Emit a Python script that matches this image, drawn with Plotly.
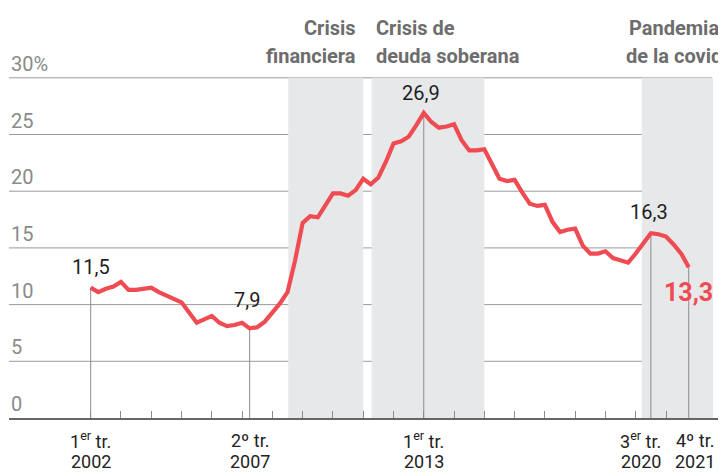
import plotly.graph_objects as go

# ---------------- data ----------------
years = list(range(2002, 2022))
quarters = [f"{y}-T{q}" for y in years for q in range(1, 5)]
rate = [11.5, 11.1, 11.4, 11.6, 12.0, 11.3, 11.3, 11.4, 11.5, 11.1,
        10.8, 10.5, 10.2, 9.3, 8.4, 8.7, 9.0, 8.4, 8.1, 8.2,
        8.4, 7.9, 8.0, 8.5, 9.3, 10.1, 11.1, 13.9, 17.2, 17.8,
        17.7, 18.7, 19.8, 19.8, 19.6, 20.1, 21.1, 20.6, 21.2, 22.6,
        24.2, 24.4, 24.8, 25.8, 26.9, 26.1, 25.6, 25.7, 25.9, 24.5,
        23.6, 23.6, 23.7, 22.4, 21.1, 20.9, 21.0, 19.9, 18.9, 18.7,
        18.8, 17.3, 16.4, 16.6, 16.7, 15.2, 14.5, 14.5, 14.7, 14.1,
        13.9, 13.7, 14.5, 15.4, 16.3, 16.2, 16.0, 15.3, 14.5, 13.3]
x_idx = list(range(len(quarters)))

# crisis periods (in quarter-index units)
period_line1 = ["Crisis", "Crisis de", "Pandemia"]
period_line2 = ["financiera", "deuda soberana", "de la covid"]
period_start = [26.1, 37.1, 72.8]
period_end = [36.0, 52.0, 82.2]

# highlighted points and x tick labels
label_idx = [0, 21, 44, 74, 79]
tick_line1 = ["1<sup>er</sup> tr.", "2º tr.", "1<sup>er</sup> tr.", "3<sup>er</sup> tr.", "4º tr."]
tick_line2 = ["2002", "2007", "2013", "2020", "2021"]
y_ticks = [0, 5, 10, 15, 20, 25, 30]
year_ticks = [i for i, q in enumerate(quarters) if q.endswith("T1")]

# ---------------- layout geometry (page pixels) ----------------
PAGE_W, PAGE_H = 726, 473
OFF = 8                      # default body margin of the html page
W, H = PAGE_W - OFF, PAGE_H - OFF
PL, PR, PT, PB = 9, 719, 60, 418   # plot area in page pixels
L, T = PL - OFF, PT - OFF
R, B = W - (PR - OFF), H - (PB - OFF)
PX_PER_Q = 7.57
X0_PX = 90.7
xmin = (PL - X0_PX) / PX_PER_Q
xmax = (PR - X0_PX) / PX_PER_Q
PX_PER_UNIT = 11.34
ymax = (PB - PT) / PX_PER_UNIT


def yp(p):
    """page pixel -> paper y"""
    return (PB - p) / (PB - PT)


def xp(p):
    """page pixel -> paper x"""
    return (p - PL) / (PR - PL)


FONT = "Roboto"
RED = "#ef4b52"

fig = go.Figure()
fig.add_trace(go.Scatter(
    x=x_idx, y=rate, mode="lines",
    line=dict(color=RED, width=4.2, shape="linear"),
    hoverinfo="skip", showlegend=False,
))

shapes = []
for s, e in zip(period_start, period_end):
    shapes.append(dict(type="rect", xref="x", yref="y", x0=s, x1=e, y0=0, y1=30,
                       fillcolor="#e7e8ea", line=dict(width=0), layer="below"))
for g in y_ticks[1:]:
    shapes.append(dict(type="line", xref="paper", yref="y", x0=0, x1=xp(712), y0=g, y1=g,
                       line=dict(color="#9a9a9a", width=1), layer="below"))
for i in label_idx:
    shapes.append(dict(type="line", xref="x", yref="y", x0=i, x1=i, y0=0, y1=rate[i],
                       line=dict(color="#8c8c8c", width=1), layer="below"))

ann = []
# y tick labels
for v in y_ticks:
    ann.append(dict(xref="paper", yref="y", x=0, y=v + 14 / PX_PER_UNIT,
                    text=("30%" if v == 30 else str(v)), showarrow=False,
                    xanchor="left", yanchor="middle",
                    font=dict(family=FONT, size=20, color="#8a8a8a")))

# period headers
hdr_font = dict(family=FONT, size=20, color="#6d6d6d", weight="bold")
hdr_x1 = [357, 375, 720]
hdr_x2 = [357, 375, 723]
hdr_anchor = ["right", "left", "right"]
for l1, l2, hx1, hx2, anc in zip(period_line1, period_line2, hdr_x1, hdr_x2, hdr_anchor):
    ann.append(dict(xref="paper", yref="paper", x=xp(hx1), y=yp(28), text=l1, showarrow=False,
                    xanchor=anc, yanchor="middle", borderpad=0, font=hdr_font))
    ann.append(dict(xref="paper", yref="paper", x=xp(hx2), y=yp(56), text=l2, showarrow=False,
                    xanchor=anc, yanchor="middle", borderpad=0, font=hdr_font))

# value labels
val_shift = [(0, 21), (-3, 28), (-3, 20), (-2, 21), (0, -25)]
for k, i in enumerate(label_idx):
    txt = f"{rate[i]:.1f}".replace(".", ",")
    last = (k == len(label_idx) - 1)
    ann.append(dict(xref="x", yref="y", x=i, y=rate[i], text=txt, showarrow=False,
                    xanchor="center", yanchor="middle",
                    xshift=val_shift[k][0], yshift=val_shift[k][1],
                    font=(dict(family=FONT, size=25, color=RED, weight="bold") if last
                          else dict(family=FONT, size=20, color="#1e1e1e"))))

# x tick labels
tick_shift = [0, 0, 0, -10, 6]
for k, i in enumerate(label_idx):
    ann.append(dict(xref="x", yref="paper", x=i, y=yp(440), text=tick_line1[k], showarrow=False,
                    xanchor="center", yanchor="middle", xshift=tick_shift[k],
                    borderpad=0,
                    font=dict(family=FONT, size=18, color="#222222")))
    ann.append(dict(xref="x", yref="paper", x=i, y=yp(472.5), text=tick_line2[k], showarrow=False,
                    xanchor="center", yanchor="bottom", xshift=tick_shift[k],
                    borderpad=0,
                    font=dict(family=FONT, size=18, color="#222222")))

fig.update_layout(
    width=W, height=H,
    margin=dict(l=L, r=R, t=T, b=B, pad=0),
    paper_bgcolor="white", plot_bgcolor="white",
    shapes=shapes, annotations=ann,
    showlegend=False,
    font=dict(family=FONT),
    xaxis=dict(range=[xmin, xmax], showgrid=False, zeroline=False,
               showline=True, linecolor="#666666", linewidth=2,
               ticks="inside", tickvals=year_ticks, ticklen=7, tickwidth=1,
               tickcolor="#8c8c8c", showticklabels=False, fixedrange=True),
    yaxis=dict(range=[0, ymax], showgrid=False, zeroline=False, showline=False,
               showticklabels=False, ticks="", fixedrange=True),
)

fig.write_html("out.html", config={"displayModeBar": False})
